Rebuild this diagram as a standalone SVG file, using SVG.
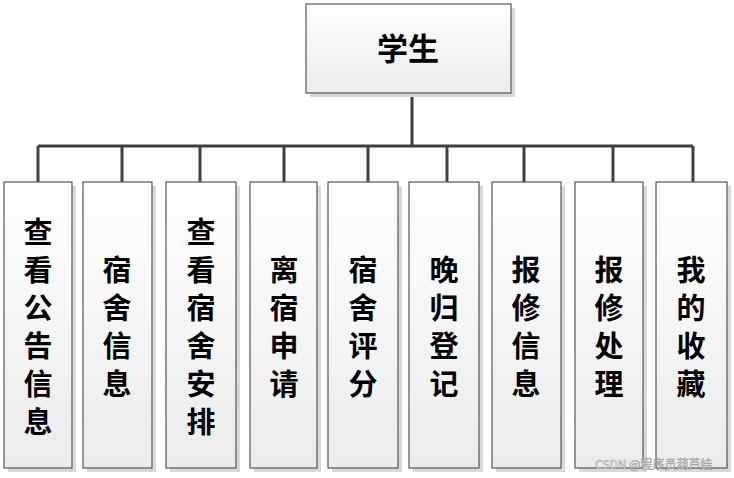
<svg xmlns="http://www.w3.org/2000/svg" width="734" height="478" viewBox="0 0 734 478">
<defs>
<linearGradient id="g" x1="0" y1="0" x2="0" y2="1">
<stop offset="0" stop-color="#ffffff"/>
<stop offset="1" stop-color="#ebebeb"/>
</linearGradient>
</defs>
<style>
.sh{fill:#d9d9d9}
.bx{fill:url(#g);stroke:#555;stroke-width:1.2}
.t{font-family:"Noto Sans CJK SC","Noto Sans",sans-serif;font-size:29px;font-weight:600;fill:#000;text-anchor:middle;dominant-baseline:central}
.c{fill:none;stroke:#404040;stroke-width:3}
.wm{font-family:"Noto Sans CJK SC","Liberation Sans",sans-serif;font-size:12px;fill:#f8f8f8;stroke:#999;stroke-width:0.5}
</style>
<rect width="734" height="478" fill="#fff"/>
<g id="connectors">
<path class="c" d="M412 94V146M38 146H693M38 146V182M122 146V182M200 146V182M284 146V182M368 146V182M447 146V182M524 146V182M613 146V182M693 146V182"/>
</g>
<g id="root">
<rect class="sh" x="310" y="8" width="205" height="89"/>
<rect class="bx" x="306" y="4" width="205" height="89"/>
<text class="t" x="408" y="46" style="font-size:31px">学生</text>
</g>
<g id="n1">
<rect class="sh" x="8" y="186" width="68" height="286"/>
<rect class="bx" x="4" y="182" width="68" height="286"/>
<text class="t"><tspan x="38" y="230">查</tspan><tspan x="38" y="268">看</tspan><tspan x="38" y="306">公</tspan><tspan x="38" y="344">告</tspan><tspan x="38" y="382">信</tspan><tspan x="38" y="420">息</tspan></text>
</g>
<g id="n2">
<rect class="sh" x="87" y="186" width="69" height="286"/>
<rect class="bx" x="83" y="182" width="69" height="286"/>
<text class="t"><tspan x="117" y="268">宿</tspan><tspan x="117" y="306">舍</tspan><tspan x="117" y="344">信</tspan><tspan x="117" y="382">息</tspan></text>
</g>
<g id="n3">
<rect class="sh" x="170" y="186" width="70" height="286"/>
<rect class="bx" x="166" y="182" width="70" height="286"/>
<text class="t"><tspan x="201" y="230">查</tspan><tspan x="201" y="268">看</tspan><tspan x="201" y="306">宿</tspan><tspan x="201" y="344">舍</tspan><tspan x="201" y="382">安</tspan><tspan x="201" y="420">排</tspan></text>
</g>
<g id="n4">
<rect class="sh" x="254" y="186" width="67" height="286"/>
<rect class="bx" x="250" y="182" width="67" height="286"/>
<text class="t"><tspan x="284" y="268">离</tspan><tspan x="284" y="306">宿</tspan><tspan x="284" y="344">申</tspan><tspan x="284" y="382">请</tspan></text>
</g>
<g id="n5">
<rect class="sh" x="332" y="186" width="70" height="286"/>
<rect class="bx" x="328" y="182" width="70" height="286"/>
<text class="t"><tspan x="363" y="268">宿</tspan><tspan x="363" y="306">舍</tspan><tspan x="363" y="344">评</tspan><tspan x="363" y="382">分</tspan></text>
</g>
<g id="n6">
<rect class="sh" x="413" y="186" width="70" height="286"/>
<rect class="bx" x="409" y="182" width="70" height="286"/>
<text class="t"><tspan x="444" y="268">晚</tspan><tspan x="444" y="306">归</tspan><tspan x="444" y="344">登</tspan><tspan x="444" y="382">记</tspan></text>
</g>
<g id="n7">
<rect class="sh" x="496" y="186" width="69" height="286"/>
<rect class="bx" x="492" y="182" width="69" height="286"/>
<text class="t"><tspan x="526" y="268">报</tspan><tspan x="526" y="306">修</tspan><tspan x="526" y="344">信</tspan><tspan x="526" y="382">息</tspan></text>
</g>
<g id="n8">
<rect class="sh" x="579" y="186" width="68" height="286"/>
<rect class="bx" x="575" y="182" width="68" height="286"/>
<text class="t"><tspan x="609" y="268">报</tspan><tspan x="609" y="306">修</tspan><tspan x="609" y="344">处</tspan><tspan x="609" y="382">理</tspan></text>
</g>
<g id="n9">
<rect class="sh" x="660" y="186" width="71" height="286"/>
<rect class="bx" x="656" y="182" width="71" height="286"/>
<text class="t"><tspan x="691" y="268">我</tspan><tspan x="691" y="306">的</tspan><tspan x="691" y="344">收</tspan><tspan x="691" y="382">藏</tspan></text>
</g>
<text class="wm" x="595" y="469">CSDN @程序员葫芦娃</text>
</svg>
